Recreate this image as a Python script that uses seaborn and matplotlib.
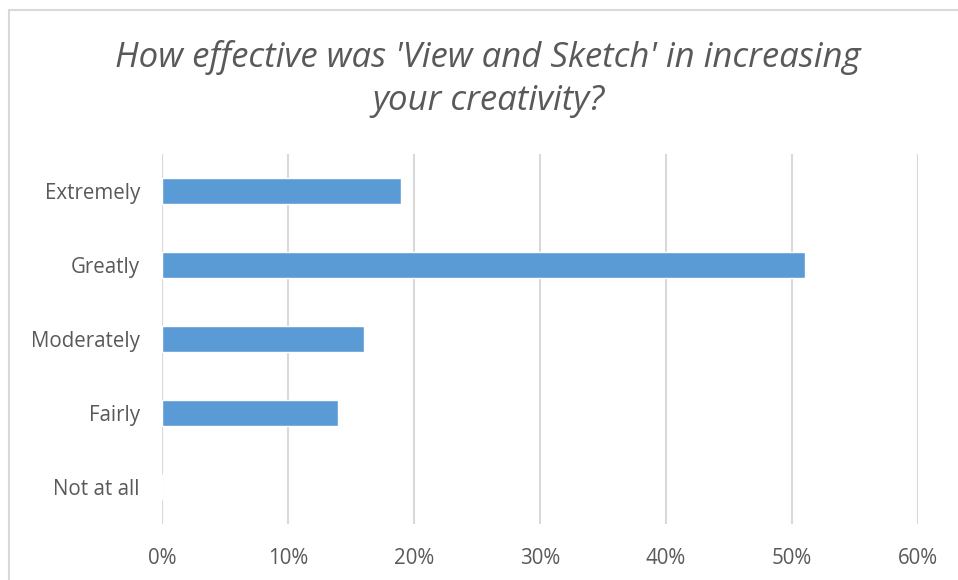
import matplotlib
matplotlib.use("Agg")
import matplotlib.pyplot as plt
from matplotlib.lines import Line2D
from matplotlib.ticker import PercentFormatter
import seaborn as sns
import pandas as pd

categories = ["Extremely", "Greatly", "Moderately", "Fairly", "Not at all"]
shares = [19, 51, 16, 14, 0]
x_ticks = [0, 10, 20, 30, 40, 50, 60]
title = "How effective was 'View and Sketch' in increasing\nyour creativity?"

df = pd.DataFrame({"response": categories, "share": shares})

sns.set_theme(style="white")
plt.rcParams["font.family"] = ["Open Sans", "DejaVu Sans"]

text_color = "#595959"
grid_color = "#D9D9D9"
bar_color = "#5B9BD5"

W, H = 958, 580
fig = plt.figure(figsize=(W / 100, H / 100), dpi=100)
ax = fig.add_axes([162 / W, (H - 524) / H, (918 - 162) / W, (524 - 154) / H])

sns.barplot(data=df, x="share", y="response", order=categories,
            color=bar_color, width=0.35, saturation=1, ax=ax, zorder=3)

ax.set_xlim(0, 60)
ax.set_xticks(x_ticks)
ax.xaxis.set_major_formatter(PercentFormatter(decimals=0))
ax.grid(axis="x", color=grid_color, linewidth=1.5, zorder=0)
ax.grid(axis="y", visible=False)
for side in ["top", "right", "bottom", "left"]:
    ax.spines[side].set_visible(False)
ax.axvline(0, color=grid_color, linewidth=1.5, zorder=1)
ax.set_xlabel("")
ax.set_ylabel("")
ax.tick_params(axis="both", length=0, labelsize=14.8, colors=text_color)
ax.tick_params(axis="x", pad=17)
ax.tick_params(axis="y", pad=16)

fig.text(488 / W, 1 - 79 / H, title, ha="center", va="center",
         fontsize=25, style="italic", color=text_color, linespacing=1.38)

# outer chart frame: only the top and left edges fall inside the image
frame = dict(color="#D9D9D9", linewidth=1.5, transform=fig.transFigure)
fig.lines.append(Line2D([9 / W, 1.0], [1 - 10 / H, 1 - 10 / H], **frame))
fig.lines.append(Line2D([9 / W, 9 / W], [0.0, 1 - 10 / H], **frame))

fig.savefig("out.png", dpi=100, facecolor="white")
